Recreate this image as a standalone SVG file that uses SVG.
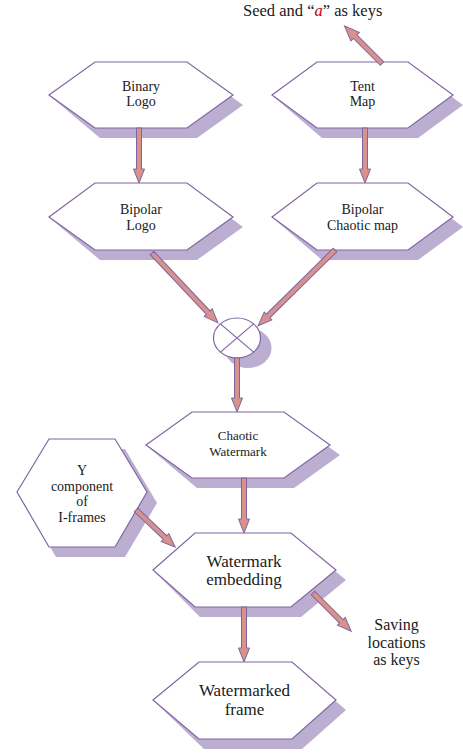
<svg xmlns="http://www.w3.org/2000/svg" width="463" height="753" viewBox="0 0 463 753">
<style>
.hex{fill:#ffffff;stroke:#8064a2;stroke-width:1.2;stroke-linejoin:miter}
.sh{fill:#bcaed1;stroke:none}
.arr{fill:#d7928b;stroke:#8064a2;stroke-width:1;stroke-linejoin:miter}
.t{font-family:"Liberation Serif","Times New Roman",serif;fill:#1a1a1a;text-anchor:middle}
.s{font-size:14px}
.m{font-size:13px}
.l{font-size:17px}
.k{font-size:16px}
</style>
<rect width="463" height="753" fill="#ffffff"/>
<g id="node-binary-logo">
<polygon class="sh" points="51,97 105,72 197,72 243,105 197,138 100,138"/>
<polygon class="hex" points="49,95 95,62 187,62 233,95 187,128 95,128"/>
<text class="t s" x="141" y="91">Binary</text>
<text class="t s" x="141" y="106">Logo</text>
</g>
<g id="node-tent-map">
<polygon class="sh" points="274,97 327,72 418,72 463,105 418,138 322,138"/>
<polygon class="hex" points="272,95 317,62 408,62 453,95 408,128 317,128"/>
<text class="t s" x="362.5" y="91">Tent</text>
<text class="t s" x="362.5" y="106">Map</text>
</g>
<g id="node-bipolar-logo">
<polygon class="sh" points="51,219 105,193 197,193 243,227 197,260 100,260"/>
<polygon class="hex" points="49,217 95,183 187,183 233,217 187,250 95,250"/>
<text class="t s" x="141" y="214">Bipolar</text>
<text class="t s" x="141" y="229.5">Logo</text>
</g>
<g id="node-bipolar-chaotic-map">
<polygon class="sh" points="274,219 327,193 418,193 463,227 418,260 322,260"/>
<polygon class="hex" points="272,217 317,183 408,183 453,217 408,250 317,250"/>
<text class="t s" x="362.5" y="214">Bipolar</text>
<text class="t s" x="362.5" y="230">Chaotic map</text>
</g>
<g id="node-multiply">
<ellipse cx="248" cy="348" rx="23.5" ry="20" fill="#bcaed1"/>
<ellipse cx="237" cy="338" rx="23.5" ry="20" fill="#ffffff" stroke="#8064a2" stroke-width="1.2"/>
<line x1="220.4" y1="323.9" x2="253.6" y2="352.1" stroke="#8064a2" stroke-width="1.2"/>
<line x1="253.6" y1="323.9" x2="220.4" y2="352.1" stroke="#8064a2" stroke-width="1.2"/>
</g>
<g id="node-chaotic-watermark">
<polygon class="sh" points="148,447 202,422 294,422 340,455 294,488 197,488"/>
<polygon class="hex" points="146,445 192,412 284,412 330,445 284,478 192,478"/>
<text class="t m" x="238" y="439.5">Chaotic</text>
<text class="t m" x="238" y="456">Watermark</text>
</g>
<g id="node-y-component">
<polygon class="sh" points="19,494 59,449 125,449 157,503 125,557 56,557"/>
<polygon class="hex" points="17,492 49,439 115,439 147,492 115,547 49,547"/>
<text class="t s" x="82" y="475">Y</text>
<text class="t s" x="82" y="490.5">component</text>
<text class="t s" x="82" y="506">of</text>
<text class="t s" x="82" y="521.5">I-frames</text>
</g>
<g id="node-watermark-embedding">
<polygon class="sh" points="155,572 205,543 301,543 346,580 301,617 200,617"/>
<polygon class="hex" points="153,570 195,533 291,533 336,570 291,607 195,607"/>
<text class="t l" x="244" y="567">Watermark</text>
<text class="t l" x="244" y="585">embedding</text>
</g>
<g id="node-watermarked-frame">
<polygon class="sh" points="155,702 209,672 302,672 346,710 302,749 204,749"/>
<polygon class="hex" points="153,700 199,662 292,662 336,700 292,739 199,739"/>
<text class="t l" x="244.5" y="696">Watermarked</text>
<text class="t l" x="244.5" y="715">frame</text>
</g>
<g id="label-seed">
<text x="243" y="16" style="font-family:'Liberation Serif','Times New Roman',serif;font-size:16.5px;fill:#1a1a1a">Seed and “<tspan fill="#c00000" font-style="italic">a</tspan>” as keys</text>
</g>
<g id="label-saving">
<text class="t k" x="396.5" y="630">Saving</text>
<text class="t k" x="396.5" y="647.5">locations</text>
<text class="t k" x="396.5" y="665">as keys</text>
</g>
<g id="connectors">
<polygon class="arr" transform="translate(139,128) rotate(90)" points="0,-2.5 41,-2.5 41,-5.5 55,0 41,5.5 41,2.5 0,2.5"/>
<polygon class="arr" transform="translate(365,128) rotate(90)" points="0,-2.5 41,-2.5 41,-5.5 55,0 41,5.5 41,2.5 0,2.5"/>
<polygon class="arr" transform="translate(382,63.5) rotate(-135)" points="0,-2.5 38,-2.5 38,-6 53,0 38,6 38,2.5 0,2.5"/>
<polygon class="arr" transform="translate(152,253) rotate(46.7)" points="0,-2.5 82,-2.5 82,-5.5 96,0 82,5.5 82,2.5 0,2.5"/>
<polygon class="arr" transform="translate(335,250) rotate(135.4)" points="0,-2.5 94,-2.5 94,-5.5 108,0 94,5.5 94,2.5 0,2.5"/>
<polygon class="arr" transform="translate(237,358) rotate(90)" points="0,-2.5 40,-2.5 40,-5.5 54,0 40,5.5 40,2.5 0,2.5"/>
<polygon class="arr" transform="translate(244,478) rotate(90)" points="0,-2.5 41,-2.5 41,-5.5 55,0 41,5.5 41,2.5 0,2.5"/>
<polygon class="arr" transform="translate(136,510) rotate(43.5)" points="0,-2.5 40,-2.5 40,-5.5 54,0 40,5.5 40,2.5 0,2.5"/>
<polygon class="arr" transform="translate(244,607) rotate(90)" points="0,-2.5 41,-2.5 41,-5.5 55,0 41,5.5 41,2.5 0,2.5"/>
<polygon class="arr" transform="translate(313,593) rotate(45)" points="0,-2.5 40,-2.5 40,-5.5 54,0 40,5.5 40,2.5 0,2.5"/>
</g>
</svg>
